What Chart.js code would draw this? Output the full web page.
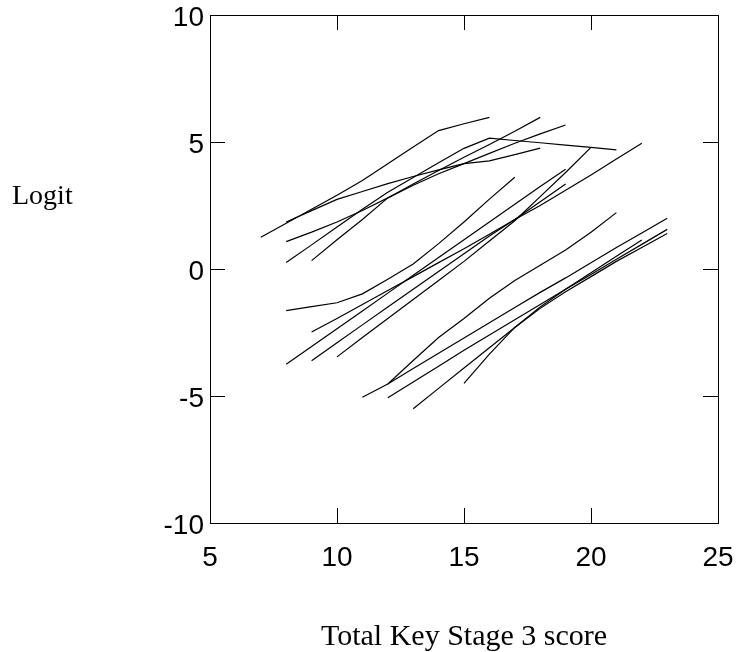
<!DOCTYPE html>
<html>
<head>
<meta charset="utf-8">
<script src="https://cdn.jsdelivr.net/npm/chart.js@4"></script>
<style>
  html, body { margin: 0; padding: 0; background: #fff; }
  #wrap { width: 739px; height: 652px; }
</style>
</head>
<body>
<div id="wrap"><canvas id="chart"></canvas></div>
<script>
// tick values
const xTicks = [5, 10, 15, 20, 25];
const yTicks = [-10, -5, 0, 5, 10];

// first score of each line, then logit values at consecutive scores
const starts = [7, 8, 8, 8, 9, 8, 9, 8, 9, 10, 11, 12, 12, 13, 15];

// upper group
const top1 = [1.25, 1.8, 2.35, 2.9, 3.48, 4.14, 4.8, 5.45, 5.72, 5.97];
const top2 = [1.85, 2.3, 2.74, 3.05, 3.36, 3.64, 3.9, 4.15, 4.26, 4.5, 4.76];
const top3 = [1.08, 1.45, 1.85, 2.3, 2.8, 3.3, 3.75, 4.15, 4.55, 4.95, 5.32, 5.67];
const top4 = [0.26, 0.95, 1.65, 2.35, 3.02, 3.6, 4.18, 4.75, 5.15, 5.06, 4.97, 4.88, 4.79, 4.69];
const top5 = [0.33, 1.15, 1.95, 2.8, 3.35, 3.88, 4.4, 4.9, 5.42, 5.97];

// middle group
const mid1 = [-1.64, -1.48, -1.33, -0.98, -0.4, 0.2, 1.0, 1.85, 2.75, 3.61];
const mid2 = [-2.48, -1.95, -1.4, -0.85, -0.3, 0.25, 0.8, 1.37, 1.95, 2.5, 3.1, 3.7, 4.33, 4.95];
const mid3 = [-3.75, -3.05, -2.35, -1.65, -0.95, -0.25, 0.45, 1.15, 1.85, 2.55, 3.25, 3.93];
const mid4 = [-3.61, -2.9, -2.2, -1.5, -0.8, -0.1, 0.6, 1.3, 1.95, 2.65, 3.35];
const mid5 = [-3.46, -2.7, -1.95, -1.2, -0.45, 0.3, 1.1, 1.9, 2.85, 3.8, 4.79];

// lower group
const low1 = [-5.05, -4.53, -3.92, -3.32, -2.72, -2.12, -1.52, -0.92, -0.35, 0.25, 0.85, 1.42, 2.0];
const low2 = [-5.07, -4.45, -3.83, -3.2, -2.6, -2.0, -1.4, -0.8, -0.22, 0.38, 0.97, 1.56];
const low3 = [-4.53, -3.6, -2.7, -1.95, -1.15, -0.45, 0.15, 0.75, 1.45, 2.22];
const low4 = [-5.5, -4.7, -3.9, -3.1, -2.3, -1.55, -0.9, -0.3, 0.3, 0.85, 1.4];
const low5 = [-4.5, -3.35, -2.3, -1.5, -0.8, -0.15, 0.5, 1.14];

const series = [top1, top2, top3, top4, top5, mid1, mid2, mid3, mid4, mid5, low1, low2, low3, low4, low5];

const datasets = series.map((vals, i) => ({
    data: vals.map((v, j) => ({ x: starts[i] + j, y: v })),
    borderColor: '#000',
    borderWidth: 1.2,
    pointRadius: 0,
    fill: false,
    tension: 0
}));

// frame with inward ticks on all four sides
const framePlugin = {
    id: 'frame',
    afterDraw(chart) {
        const { ctx, chartArea: a, scales: { x, y } } = chart;
        const len = 15;
        ctx.save();
        ctx.strokeStyle = '#000';
        ctx.lineWidth = 1;
        ctx.strokeRect(a.left + 0.5, a.top + 0.5, a.right - a.left, a.bottom - a.top);
        ctx.beginPath();
        xTicks.forEach(v => {
            const px = Math.round(x.getPixelForValue(v)) + 0.5;
            ctx.moveTo(px, a.bottom); ctx.lineTo(px, a.bottom - len);
            ctx.moveTo(px, a.top); ctx.lineTo(px, a.top + len);
        });
        yTicks.forEach(v => {
            const py = Math.round(y.getPixelForValue(v)) + 0.5;
            ctx.moveTo(a.left, py); ctx.lineTo(a.left + len, py);
            ctx.moveTo(a.right, py); ctx.lineTo(a.right - len, py);
        });
        ctx.stroke();

        // horizontal y-axis title
        ctx.fillStyle = '#000';
        ctx.font = '28px "Liberation Serif"';
        ctx.textAlign = 'left';
        ctx.textBaseline = 'middle';
        ctx.fillText('Logit', 12, 197);
        ctx.restore();
    }
};

const tickFont = { family: 'Liberation Sans', size: 28 };

new Chart(document.getElementById('chart'), {
    type: 'line',
    data: { datasets },
    options: {
        responsive: true,
        maintainAspectRatio: false,
        animation: false,
        layout: { padding: { top: 15, right: 21, left: 0, bottom: 0 } },
        plugins: { legend: { display: false }, tooltip: { enabled: false } },
        scales: {
            x: {
                type: 'linear',
                min: 5,
                max: 25,
                afterBuildTicks: s => { s.ticks = xTicks.map(v => ({ value: v })); },
                afterFit: s => { s.height = 129; s.paddingLeft = 0; s.paddingRight = 0; },
                grid: { display: false, drawTicks: false },
                border: { display: false },
                ticks: { font: tickFont, color: '#000', padding: 18, maxRotation: 0 },
                title: {
                    display: true,
                    text: 'Total Key Stage 3 score',
                    font: { family: 'Liberation Serif', size: 30, lineHeight: 1 },
                    color: '#000',
                    padding: { top: 0, bottom: 0 }
                }
            },
            y: {
                type: 'linear',
                min: -10,
                max: 10,
                afterBuildTicks: s => { s.ticks = yTicks.map(v => ({ value: v })); },
                afterFit: s => { s.width = 210; s.paddingTop = 0; s.paddingBottom = 0; },
                grid: { display: false, drawTicks: false },
                border: { display: false },
                ticks: { font: tickFont, color: '#000', padding: 6, labelOffset: 3 }
            }
        }
    },
    plugins: [framePlugin]
});
</script>
</body>
</html>
